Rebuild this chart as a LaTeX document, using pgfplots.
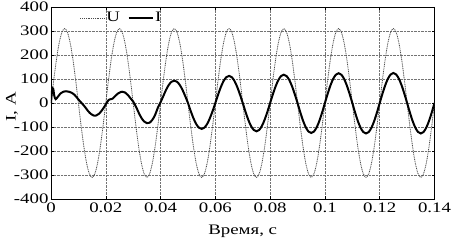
\documentclass[border=0pt]{standalone}
\usepackage{fontspec}
\setmainfont{Liberation Serif}[FakeStretch=1.3]
\usepackage{pgfplots}
\pgfplotsset{compat=1.18}
\newcommand\lbl{\fontsize{14.5}{17}\selectfont}
\begin{document}
\begin{tikzpicture}
\begin{axis}[
  scale only axis, width=383.5pt, height=192pt,
  xmin=0, xmax=0.14, ymin=-400, ymax=400,
  xtick={0,0.02,0.04,0.06,0.08,0.1,0.12,0.14},
  xticklabels={0,0.02,0.04,0.06,0.08,0.1,0.12,0.14},
  ytick={-400,-300,-200,-100,0,100,200,300,400},
  yticklabels={-400,-300,-200,-100,0,100,200,300,400},
  scaled x ticks=false,
  tick label style={font=\lbl},
  yticklabel style={xshift=1pt},
  grid=major,
  major grid style={black!55, densely dotted, line width=0.5pt},
  axis line style={line width=0.6pt},
  tick style={black, line width=0.5pt},
  major tick length=3pt,
  xlabel={Время, с}, ylabel={I, A},
  every axis x label/.style={at={(axis description cs:0.5,-0.1667)}, anchor=center, font=\lbl},
  every axis y label/.style={at={(axis description cs:-0.102,0.48)}, anchor=center, rotate=90, font=\lbl},
  legend style={at={(axis description cs:0.075,0.943)}, anchor=west, draw=none, fill=none, font=\lbl, inner sep=0pt,
    nodes={inner sep=1.5pt}},
  legend columns=2,
  legend image code/.code={\draw[#1] (0cm,0cm) -- (0.85cm,0cm);},
  /tikz/every even column/.append style={column sep=6pt},
]
\addplot[black!70, dash pattern=on 1pt off 0.8pt, line width=0.8pt, smooth] coordinates {
(0,0)(0.001,95.8)(0.002,182.2)(0.003,250.8)(0.004,294.8)(0.005,310)(0.006,294.8)(0.007,250.8)(0.008,182.2)(0.009,95.8)
(0.010,0)(0.011,-95.8)(0.012,-182.2)(0.013,-250.8)(0.014,-294.8)(0.015,-310)(0.016,-294.8)(0.017,-250.8)(0.018,-182.2)(0.019,-95.8)
(0.020,0)(0.021,95.8)(0.022,182.2)(0.023,250.8)(0.024,294.8)(0.025,310)(0.026,294.8)(0.027,250.8)(0.028,182.2)(0.029,95.8)
(0.030,0)(0.031,-95.8)(0.032,-182.2)(0.033,-250.8)(0.034,-294.8)(0.035,-310)(0.036,-294.8)(0.037,-250.8)(0.038,-182.2)(0.039,-95.8)
(0.040,0)(0.041,95.8)(0.042,182.2)(0.043,250.8)(0.044,294.8)(0.045,310)(0.046,294.8)(0.047,250.8)(0.048,182.2)(0.049,95.8)
(0.050,0)(0.051,-95.8)(0.052,-182.2)(0.053,-250.8)(0.054,-294.8)(0.055,-310)(0.056,-294.8)(0.057,-250.8)(0.058,-182.2)(0.059,-95.8)
(0.060,0)(0.061,95.8)(0.062,182.2)(0.063,250.8)(0.064,294.8)(0.065,310)(0.066,294.8)(0.067,250.8)(0.068,182.2)(0.069,95.8)
(0.070,0)(0.071,-95.8)(0.072,-182.2)(0.073,-250.8)(0.074,-294.8)(0.075,-310)(0.076,-294.8)(0.077,-250.8)(0.078,-182.2)(0.079,-95.8)
(0.080,0)(0.081,95.8)(0.082,182.2)(0.083,250.8)(0.084,294.8)(0.085,310)(0.086,294.8)(0.087,250.8)(0.088,182.2)(0.089,95.8)
(0.090,0)(0.091,-95.8)(0.092,-182.2)(0.093,-250.8)(0.094,-294.8)(0.095,-310)(0.096,-294.8)(0.097,-250.8)(0.098,-182.2)(0.099,-95.8)
(0.100,0)(0.101,95.8)(0.102,182.2)(0.103,250.8)(0.104,294.8)(0.105,310)(0.106,294.8)(0.107,250.8)(0.108,182.2)(0.109,95.8)
(0.110,0)(0.111,-95.8)(0.112,-182.2)(0.113,-250.8)(0.114,-294.8)(0.115,-310)(0.116,-294.8)(0.117,-250.8)(0.118,-182.2)(0.119,-95.8)
(0.120,0)(0.121,95.8)(0.122,182.2)(0.123,250.8)(0.124,294.8)(0.125,310)(0.126,294.8)(0.127,250.8)(0.128,182.2)(0.129,95.8)
(0.130,0)(0.131,-95.8)(0.132,-182.2)(0.133,-250.8)(0.134,-294.8)(0.135,-310)(0.136,-294.8)(0.137,-250.8)(0.138,-182.2)(0.139,-95.8)
(0.140,0)
};
\addlegendentry{U}
\addplot[black, line width=2pt, smooth] coordinates {
(0,0)(0.0004,55)(0.0008,60)(0.0012,30)(0.0017,16)(0.0025,26)(0.0035,40)(0.0045,47)(0.0055,49)(0.0065,47)(0.0075,43)
(0.0085,35)(0.0095,22)(0.0105,8)(0.0115,-4)(0.0125,-18)(0.0135,-33)(0.0145,-45)(0.0155,-52)(0.016,-53)(0.0165,-52)
(0.0175,-45)(0.0185,-32)(0.0195,-15)(0.0203,0)(0.021,12)(0.0215,15)(0.0225,18)(0.0235,30)(0.0245,40)(0.0255,46)
(0.026,47)(0.027,44)(0.028,34)(0.029,20)(0.030,6)(0.031,-15)(0.032,-40)(0.033,-62)(0.034,-77)(0.035,-84)
(0.036,-82)(0.037,-70)(0.038,-50)(0.039,-20)(0.040,3)
(0.041,28.7)(0.042,54.7)(0.043,75.2)(0.044,88.4)(0.045,93)(0.046,88.4)(0.047,75.2)(0.048,54.7)(0.049,28.7)
(0.050,0)(0.051,-33.4)(0.052,-63.5)(0.053,-87.4)(0.054,-102.7)(0.055,-108)(0.056,-102.7)(0.057,-87.4)(0.058,-63.5)(0.059,-33.4)
(0.060,0)(0.061,34.9)(0.062,66.4)(0.063,91.4)(0.064,107.5)(0.065,113)(0.066,107.5)(0.067,91.4)(0.068,66.4)(0.069,34.9)
(0.070,0)(0.071,-36.5)(0.072,-69.4)(0.073,-95.5)(0.074,-112.2)(0.075,-118)(0.076,-112.2)(0.077,-95.5)(0.078,-69.4)(0.079,-36.5)
(0.080,0)(0.081,36.5)(0.082,69.4)(0.083,95.5)(0.084,112.2)(0.085,118)(0.086,112.2)(0.087,95.5)(0.088,69.4)(0.089,36.5)
(0.090,0)(0.091,-38.6)(0.092,-73.5)(0.093,-101.1)(0.094,-118.9)(0.095,-125)(0.096,-118.9)(0.097,-101.1)(0.098,-73.5)(0.099,-38.6)
(0.100,0)(0.101,38.3)(0.102,72.9)(0.103,100.3)(0.104,117.9)(0.105,124)(0.106,117.9)(0.107,100.3)(0.108,72.9)(0.109,38.3)
(0.110,0)(0.111,-39.2)(0.112,-74.7)(0.113,-102.7)(0.114,-120.8)(0.115,-127)(0.116,-120.8)(0.117,-102.7)(0.118,-74.7)(0.119,-39.2)
(0.120,0)(0.121,38.6)(0.122,73.5)(0.123,101.1)(0.124,118.9)(0.125,125)(0.126,118.9)(0.127,101.1)(0.128,73.5)(0.129,38.6)
(0.130,0)(0.131,-39.2)(0.132,-74.7)(0.133,-102.7)(0.134,-120.8)(0.135,-127)(0.136,-120.8)(0.137,-102.7)(0.138,-74.7)(0.139,-39.2)
(0.140,0)
};
\addlegendentry{I}
\coordinate (bl) at (rel axis cs:0,0);
\coordinate (tr) at (rel axis cs:1,1);
\end{axis}
\pgfresetboundingbox
\path ([shift={(-51pt,-42pt)}]bl) rectangle ([shift={(20.5pt,7pt)}]tr);
\end{tikzpicture}
\end{document}
